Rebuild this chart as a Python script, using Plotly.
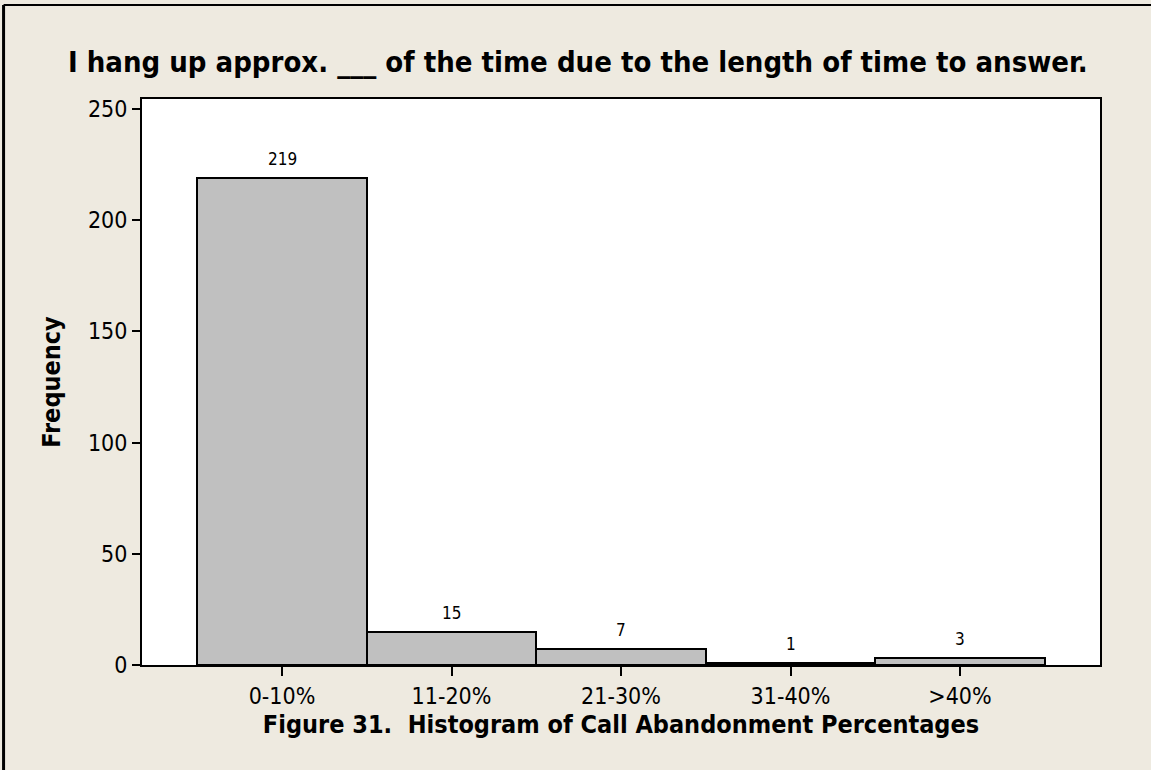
import plotly.graph_objects as go

# Datos del histograma
categorias = ['0-10%', '11-20%', '21-30%', '31-40%', '>40%']
frecuencias = [219, 15, 7, 1, 3]
y_ticks = [0, 50, 100, 150, 200, 250]

titulo = 'I hang up approx. ___ of the time due to the length of time to answer.'
titulo_x = 'Figure 31.  Histogram of Call Abandonment Percentages'
titulo_y = 'Frequency'

fuente = 'DejaVu Sans Condensed'

fig = go.Figure()
fig.add_trace(go.Bar(
	x=list(range(len(categorias))),
	y=frecuencias,
	width=1.0,
	marker=dict(color='#C0C0C0', line=dict(color='black', width=2)),
	hoverinfo='skip',
))

# Etiquetas encima de cada barra
for i, v in enumerate(frecuencias):
	fig.add_annotation(x=i, y=v, text=str(v), showarrow=False,
		yanchor='bottom', yshift=7,
		font=dict(family=fuente, size=17, color='black'))

# Borde exterior (solo izquierda y arriba)
fig.add_shape(type='line', xref='paper', yref='paper',
	x0=-0.1445, x1=1.1, y0=1.166, y1=1.166, line=dict(color='black', width=2))
fig.add_shape(type='line', xref='paper', yref='paper',
	x0=-0.1445, x1=-0.1445, y0=1.166, y1=-0.2, line=dict(color='black', width=3))

fig.update_layout(
	width=1151,
	height=770,
	margin=dict(l=142, r=51, t=99, b=105),
	paper_bgcolor='#EEEAE0',
	plot_bgcolor='white',
	showlegend=False,
	bargap=0,
	font=dict(family=fuente, size=23, color='black'),
	title=dict(text='<b>' + titulo + '</b>', x=0.502, xanchor='center',
		y=1 - 62 / 770, yanchor='middle',
		font=dict(family=fuente, size=29, color='black')),
	xaxis=dict(
		tickmode='array',
		tickvals=list(range(len(categorias))),
		ticktext=categorias,
		range=[-0.826, 4.826],
		showline=True, linecolor='black', linewidth=2, mirror=True,
		ticks='outside', ticklen=9, tickwidth=2, tickcolor='black',
		showgrid=False, zeroline=False,
		title=dict(text='<b>' + titulo_x + '</b>', standoff=8,
			font=dict(family=fuente, size=25)),
	),
	yaxis=dict(
		tickmode='array',
		tickvals=y_ticks,
		range=[0, 254.4],
		showline=True, linecolor='black', linewidth=2, mirror=True,
		ticks='outside', ticklen=8, tickwidth=2, tickcolor='black',
		showgrid=False, zeroline=False,
		title=dict(text='<b>' + titulo_y + '</b>', standoff=20,
			font=dict(family=fuente, size=25)),
	),
)

# quitar el margen del body para que la figura empiece en (0, 0)
fig.write_html('out.html', config={'displayModeBar': False},
	post_script="document.body.style.margin='0';")
